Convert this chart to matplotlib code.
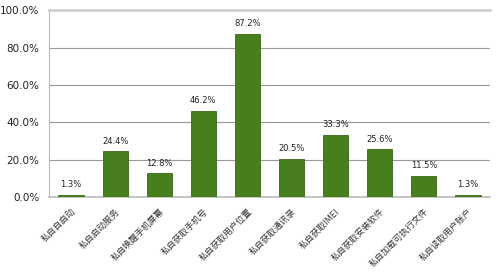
import matplotlib
matplotlib.use("Agg")
import matplotlib.pyplot as plt
import numpy as np

plt.rcParams['font.family'] = ['Noto Sans CJK SC', 'DejaVu Sans']

# data
categories = ["私自自启动", "私自启动服务", "私自唤醒手机屏幕", "私自获取手机号",
              "私自获取用户位置", "私自获取通讯录", "私自获取IMEI", "私自获取安装软件",
              "私自加载可执行文件", "私自读取用户账户"]
values = [1.3, 24.4, 12.8, 46.2, 87.2, 20.5, 33.3, 25.6, 11.5, 1.3]
yticks = [0, 20, 40, 60, 80, 100]

fig = plt.figure(figsize=(5, 2.73), dpi=100)
ax = fig.add_axes([0.098, 0.278, 0.882, 0.685])

x = np.arange(len(categories))
ax.bar(x, values, width=0.57, color="#477f1c", edgecolor="#3a6a15", linewidth=0.6, zorder=3)

for xi, v in zip(x, values):
    ax.text(xi, v + 3, "%.1f%%" % v, ha="center", va="bottom", fontsize=6,
            color="#222222", family="DejaVu Sans")

ax.set_xlim(-0.5, len(categories) - 0.5)
ax.set_ylim(0, 100)
ax.set_yticks(yticks)
ax.set_yticklabels(["%.1f%%" % t for t in yticks], family="DejaVu Sans", fontsize=7.5,
                   color="#222222")
ax.yaxis.grid(True, color="#999999", linewidth=0.8, zorder=0)
ax.tick_params(axis="y", length=0, pad=7)
ax.tick_params(axis="x", length=0, pad=7)

ax.set_xticks(x)
ax.set_xticklabels(categories, rotation=45, ha="right", rotation_mode="anchor", fontsize=6.3,
                   color="#333333")

for s in ["top", "right"]:
    ax.spines[s].set_visible(False)
ax.spines["left"].set_color("#bbbbbb")
ax.spines["bottom"].set_color("#bbbbbb")
ax.spines["bottom"].set_linewidth(1.2)
ax.axhline(100, color="#cccccc", linewidth=1.8, zorder=2, clip_on=False)

fig.savefig("out.png", dpi=100)
